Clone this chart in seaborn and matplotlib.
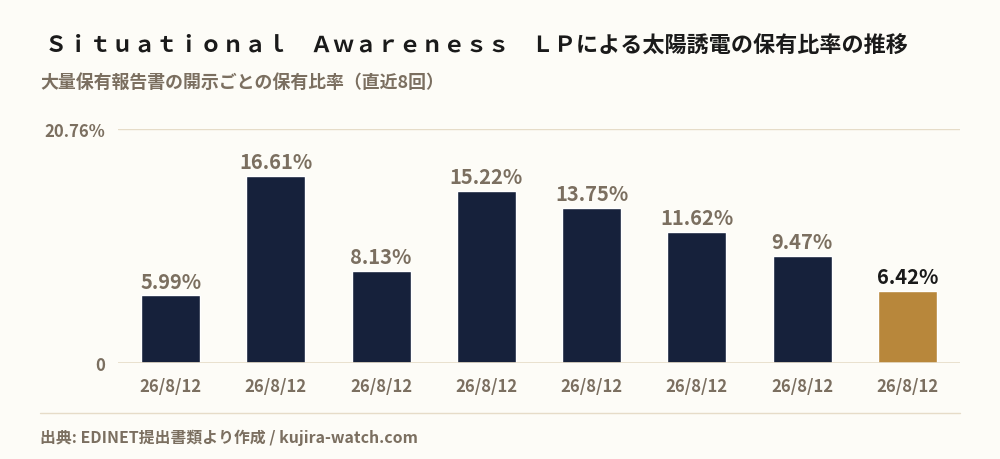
import pandas as pd
import seaborn as sns
import matplotlib.pyplot as plt

# values
dates = ['26/8/12'] * 8
ratios = [5.99, 16.61, 8.13, 15.22, 13.75, 11.62, 9.47, 6.42]
y_max = 20.76

title = 'Ｓｉｔｕａｔｉｏｎａｌ　Ａｗａｒｅｎｅｓｓ　ＬＰによる太陽誘電の保有比率の推移'
subtitle = '大量保有報告書の開示ごとの保有比率（直近8回）'
source = '出典: EDINET提出書類より作成 / kujira-watch.com'

bg = '#fdfcf7'
navy = '#16213b'
gold = '#b8873b'
gray = '#7b6f60'
line_col = '#e6dcc8'

df = pd.DataFrame({'idx': range(len(ratios)), 'date': dates, 'ratio': ratios})

sns.set_theme(style='white')
plt.rcParams['font.family'] = ['Noto Sans CJK JP', 'DejaVu Sans']
plt.rcParams['font.weight'] = 'bold'

fig = plt.figure(figsize=(10, 4.6), dpi=100, facecolor=bg)
ax = fig.add_axes([0.118, 0.2087, 0.842, 0.5087])
ax.set_facecolor(bg)

colors = [navy] * (len(ratios) - 1) + [gold]
sns.barplot(data=df, x='idx', y='ratio', hue='idx', palette=colors, legend=False,
            width=0.56, ax=ax, saturation=1)

for i, v in enumerate(ratios):
    c = '#1a1a1a' if i == len(ratios) - 1 else gray
    ax.text(i, v + 0.35, f'{v:.2f}%', ha='center', va='bottom', fontsize=14.5,
            color=c, fontweight='bold')

ax.set_ylim(0, y_max)
ax.set_xlim(-0.5, len(ratios) - 0.5)
ax.set_yticks([0, y_max])
ax.set_yticklabels(['0', f'{y_max:.2f}%'])
ax.set_xticks(range(len(ratios)))
ax.set_xticklabels(dates)
ax.tick_params(axis='both', length=0, labelsize=12, labelcolor=gray)
ax.tick_params(axis='x', pad=10)
ax.tick_params(axis='y', pad=9)
for lab in ax.get_xticklabels() + ax.get_yticklabels():
    lab.set_fontweight('bold')
ax.axhline(y_max, color=line_col, lw=1, zorder=0)
ax.axhline(0, color=line_col, lw=1.2, zorder=3)
for s in ax.spines.values():
    s.set_visible(False)
ax.set_xlabel('')
ax.set_ylabel('')

fig.text(0.045, 0.9, title, fontsize=15.9, color='#1a1a1a', fontweight='bold', va='center')
fig.text(0.04, 0.82, subtitle, fontsize=12.9, color=gray, fontweight='bold', va='center')
fig.add_artist(plt.Line2D([0.04, 0.96], [0.1, 0.1], color=line_col, lw=1))
fig.text(0.04, 0.049, source, fontsize=11.4, color=gray, fontweight='bold', va='center')

fig.savefig('out.png', dpi=100, facecolor=bg)
